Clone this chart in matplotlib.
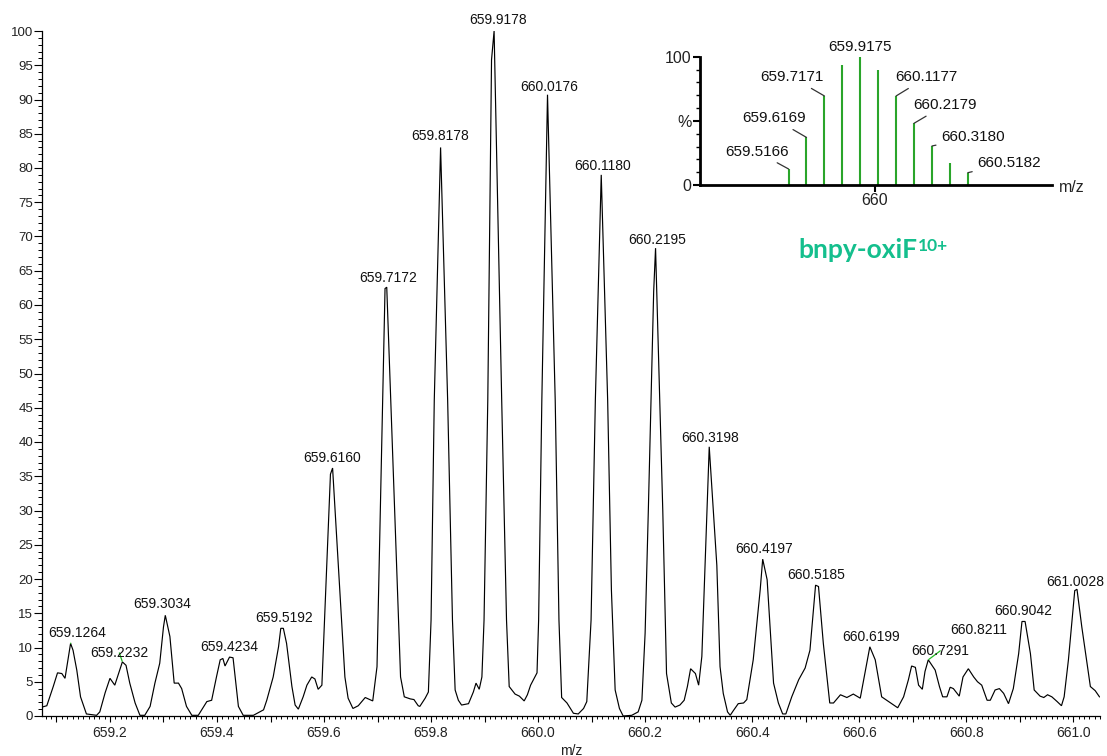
import numpy as np
import matplotlib
matplotlib.use("Agg")
import matplotlib.pyplot as plt
from matplotlib.ticker import MultipleLocator, FixedLocator, FuncFormatter

plt.rcParams['font.family'] = ['Liberation Sans', 'DejaVu Sans']

# ---- profile spectrum (m/z, relative intensity %) ----
mz = [
    659.073, 659.082, 659.094, 659.102, 659.110, 659.116, 659.1264, 659.131, 659.138, 659.145,
    659.156, 659.175, 659.181, 659.191, 659.200, 659.209, 659.2232, 659.230, 659.237, 659.247,
    659.256, 659.265, 659.275, 659.284, 659.293, 659.300, 659.3034, 659.312, 659.320, 659.328,
    659.334, 659.343, 659.353, 659.365, 659.381, 659.390, 659.399, 659.406, 659.411, 659.415,
    659.4234, 659.430, 659.440, 659.449, 659.468, 659.487, 659.493, 659.505, 659.515, 659.5192,
    659.524, 659.530, 659.540, 659.546, 659.552, 659.561, 659.568, 659.577, 659.583, 659.589,
    659.596, 659.6120, 659.6160, 659.639, 659.645, 659.654, 659.664, 659.677, 659.691, 659.699,
    659.7140, 659.7172, 659.743, 659.750, 659.761, 659.768, 659.776, 659.779, 659.789, 659.795,
    659.800, 659.806, 659.8178, 659.831, 659.840, 659.845, 659.851, 659.857, 659.870, 659.879,
    659.884, 659.890, 659.895, 659.899, 659.906, 659.913, 659.9178, 659.932, 659.941, 659.946,
    659.957, 659.965, 659.974, 659.980, 659.986, 659.998, 660.001, 660.007, 660.0176, 660.032,
    660.039, 660.044, 660.054, 660.066, 660.075, 660.085, 660.091, 660.099, 660.107, 660.1180,
    660.130, 660.137, 660.144, 660.152, 660.159, 660.175, 660.187, 660.194, 660.200, 660.206,
    660.2160, 660.2195, 660.233, 660.240, 660.249, 660.256, 660.265, 660.273, 660.279, 660.285,
    660.294, 660.300, 660.306, 660.3198, 660.334, 660.340, 660.346, 660.354, 660.359, 660.365,
    660.374, 660.384, 660.390, 660.402, 660.415, 660.4197, 660.428, 660.440, 660.449, 660.457,
    660.463, 660.474, 660.487, 660.499, 660.508, 660.5185, 660.524, 660.533, 660.545, 660.552,
    660.565, 660.577, 660.589, 660.602, 660.613, 660.6199, 660.630, 660.642, 660.655, 660.672,
    660.683, 660.692, 660.698, 660.705, 660.711, 660.718, 660.723, 660.7291, 660.742, 660.750,
    660.756, 660.764, 660.770, 660.776, 660.787, 660.794, 660.804, 660.814, 660.8211, 660.829,
    660.839, 660.845, 660.854, 660.862, 660.870, 660.879, 660.888, 660.898, 660.9042, 660.910,
    660.920, 660.927, 660.938, 660.945, 660.952, 660.960, 660.970, 660.978, 660.983, 660.991,
    661.0028, 661.007, 661.016, 661.032, 661.041, 661.049,
]
intensity = [
    1.3, 1.5, 4.3, 6.3, 6.2, 5.5, 10.6, 9.6, 6.7, 2.8,
    0.3, 0.1, 0.6, 3.4, 5.5, 4.5, 7.9, 7.4, 4.8, 1.9,
    0.1, 0.1, 1.4, 4.8, 7.7, 13.0, 14.7, 11.6, 4.8, 4.8,
    4.0, 1.4, 0.1, 0.1, 2.1, 2.3, 5.7, 8.2, 8.4, 7.3,
    8.6, 8.5, 1.4, 0.1, 0.1, 0.9, 2.3, 5.7, 10.1, 12.8,
    12.8, 10.6, 4.3, 1.6, 1.0, 2.8, 4.5, 5.7, 5.4, 3.9,
    4.5, 35.3, 36.2, 5.7, 2.6, 1.1, 1.5, 2.7, 2.2, 7.2,
    62.4, 62.6, 5.7, 2.8, 2.5, 2.4, 1.5, 1.4, 2.6, 3.5,
    14.0, 46.1, 83.0, 46.1, 14.0, 3.8, 2.3, 1.6, 1.8, 3.5,
    4.8, 3.9, 5.7, 14.0, 46.1, 95.8, 100.0, 46.1, 14.0, 4.3,
    3.2, 2.9, 2.2, 3.1, 4.5, 6.3, 14.0, 46.1, 90.7, 46.1,
    14.0, 2.7, 1.9, 0.4, 0.3, 1.1, 2.1, 14.0, 46.1, 79.0,
    46.1, 18.4, 3.8, 1.1, 0.0, 0.1, 0.6, 2.3, 12.1, 30.0,
    62.0, 68.3, 30.0, 6.2, 1.9, 1.3, 1.6, 2.3, 4.3, 6.9,
    6.2, 4.5, 8.7, 39.3, 22.0, 7.2, 3.3, 0.6, 0.1, 0.8,
    1.8, 1.9, 2.4, 8.2, 18.4, 22.9, 19.9, 4.8, 1.9, 0.3,
    0.3, 2.8, 5.3, 7.0, 9.6, 19.1, 18.9, 10.6, 1.9, 1.9,
    3.1, 2.7, 3.2, 2.6, 7.2, 10.1, 8.2, 2.8, 2.1, 1.2,
    2.8, 5.3, 7.3, 7.1, 4.5, 3.9, 6.5, 8.2, 6.7, 4.3,
    2.8, 2.8, 4.2, 4.0, 2.9, 5.7, 6.9, 5.7, 5.0, 4.5,
    2.3, 2.3, 3.8, 4.0, 3.3, 1.8, 4.0, 9.1, 13.8, 13.8,
    9.1, 3.8, 2.9, 2.7, 3.1, 2.8, 2.1, 1.5, 2.8, 8.2,
    18.3, 18.5, 13.0, 4.3, 3.7, 2.8,
]

# peaks annotated on the profile
peak_mz = [659.1264, 659.2232, 659.3034, 659.4234, 659.5192, 659.6160, 659.7172,
           659.8178, 659.9178, 660.0176, 660.1180, 660.2195, 660.3198, 660.4197,
           660.5185, 660.6199, 660.7291, 660.8211, 660.9042, 661.0028]

# ---- theoretical isotope pattern (inset) ----
iso_mz = [659.5166, 659.6169, 659.7171, 659.8173, 659.9175, 660.0176,
          660.1177, 660.2179, 660.3180, 660.4181, 660.5182]
iso_int = [12.5, 37.1, 69.4, 93.5, 100.0, 89.6, 69.4, 48.1, 30.4, 16.9, 9.6]
iso_labelled = [659.5166, 659.6169, 659.7171, 659.9175,
                660.1177, 660.2179, 660.3180, 660.5182]

species = "bnpy-oxiF"
charge = "10+"

# ---------------------------------------------------------------
W, H, DPI = 1107, 756, 100
fig = plt.figure(figsize=(W / DPI, H / DPI), dpi=DPI)
PT = 72.0 / DPI  # pixels -> points


def fig_box(x0, y0, x1, y1):
    """axes rectangle from pixel corners (top-left origin)"""
    return [x0 / W, 1 - y1 / H, (x1 - x0) / W, (y1 - y0) / H]


ax = fig.add_axes(fig_box(42, 31, 1100, 716))
ax.plot(mz, intensity, color='black', lw=0.85, solid_joinstyle='miter')
ax.set_xlim(659.073, 661.050)
ax.set_ylim(0, 100)
for s in ('top', 'right'):
    ax.spines[s].set_visible(False)
for s in ('left', 'bottom'):
    ax.spines[s].set_linewidth(0.9)

ax.xaxis.set_major_locator(MultipleLocator(0.1))
ax.xaxis.set_minor_locator(MultipleLocator(0.01))
ax.xaxis.set_major_formatter(FuncFormatter(
    lambda v, p: f"{v:.1f}" if abs(round(v * 10) % 2) < 0.5 else ""))
ax.yaxis.set_major_locator(MultipleLocator(5))
ax.yaxis.set_minor_locator(MultipleLocator(1))
ax.tick_params(axis='x', which='major', length=4.5, width=0.8,
               labelsize=10, pad=3, colors='black', labelcolor='#222222')
ax.tick_params(axis='x', which='minor', length=2.2, width=0.7)
ax.tick_params(axis='y', which='major', length=5.5, width=0.8,
               labelsize=9.5, pad=1, labelcolor='#222222')
ax.tick_params(axis='y', which='minor', length=3, width=0.7)
fig.text(571 / W, 1 - 751 / H, 'm/z', ha='center', va='center', fontsize=10,
         color='#222222')

# label placement (pixel offsets from the apex)
lab_dx = [7, -3, -3, 0, 3, 0, 1, 0, 4, 1.5, 1, 2, 1, 1, 1, 1, 12, 1, 1, 1]
lab_dy = [10, 9, 11, 10, 10, 10, 9, 11, 11, 8, 9, 8, 9, 10, 10, 10, 9, 52, 10, 9]
green_leader = {659.1264, 659.2232, 660.7291}
for m, dx, dy in zip(peak_mz, lab_dx, lab_dy):
    yv = float(np.interp(m, mz, intensity))
    kw = {}
    if m in green_leader:
        kw['arrowprops'] = dict(arrowstyle='-', color='#22bb22', lw=0.9,
                                shrinkA=0, shrinkB=0.5)
    ax.annotate(f"{m:.4f}", xy=(m, yv), xytext=(dx * PT, dy * PT),
                textcoords='offset points', ha='center', va='center',
                fontsize=10, color='#111111', **kw)

# ---- inset: theoretical isotope distribution ----
ins = fig.add_axes(fig_box(700, 56.7, 1051.7, 185))
ins.vlines(iso_mz, 0, iso_int, color='#2aa52a', lw=1.5)
ins.set_xlim(659.022, 660.987)
ins.set_ylim(0, 100)
for s in ('top', 'right'):
    ins.spines[s].set_visible(False)
for s in ('left', 'bottom'):
    ins.spines[s].set_linewidth(2.0)
ins.xaxis.set_major_locator(FixedLocator([660.0]))
ins.xaxis.set_major_formatter(FuncFormatter(lambda v, p: f"{v:.0f}"))
ins.xaxis.set_minor_locator(FixedLocator([]))
ins.yaxis.set_major_locator(FixedLocator([0, 50, 100]))
ins.yaxis.set_major_formatter(FuncFormatter(
    lambda v, p: {0: '0', 50: '%', 100: '100'}[int(round(v))]))
ins.yaxis.set_minor_locator(MultipleLocator(10))
ins.tick_params(axis='both', which='major', length=5, width=1.5,
                labelsize=11.5, pad=1, labelcolor='#222222')
ins.tick_params(axis='y', which='minor', length=3, width=1.0)
ins.patch.set_alpha(0)
fig.text(1071.7 / W, 1 - 187 / H, 'm/z', ha='center', va='center',
         fontsize=11.5, color='#222222')

ins_off = {
    659.5166: (-31.7, 17.3), 659.6169: (-32.7, 19), 659.7171: (-32.3, 18.7),
    659.9175: (0, 10), 660.1177: (30.6, 18.7), 660.2179: (31, 18.3),
    660.3180: (41.3, 8.7), 660.5182: (41.7, 9.4),
}
for m in iso_labelled:
    h = iso_int[iso_mz.index(m)]
    dx, dy = ins_off[m]
    kw = {}
    if dx != 0:
        kw['arrowprops'] = dict(arrowstyle='-', color='#333333', lw=0.9,
                                shrinkA=2, shrinkB=0)
    ins.annotate(f"{m:.4f}", xy=(m, h), xytext=(dx * PT, dy * PT),
                 textcoords='offset points', ha='center', va='center',
                 fontsize=11, color='#111111', annotation_clip=False, **kw)

# species name with charge superscript
t = fig.text(858 / W, 1 - 250 / H, species, ha='center', va='center',
             fontsize=19, fontweight='bold', color='#14bf8d',
             family=['Lato', 'DejaVu Sans'])
ins.annotate(charge, xy=(1.0, 0.33), xycoords=t, ha='left', va='bottom',
             fontsize=12.5, fontweight='bold', color='#14bf8d',
             family=['Lato', 'DejaVu Sans'])

fig.savefig('out.png', dpi=DPI)
